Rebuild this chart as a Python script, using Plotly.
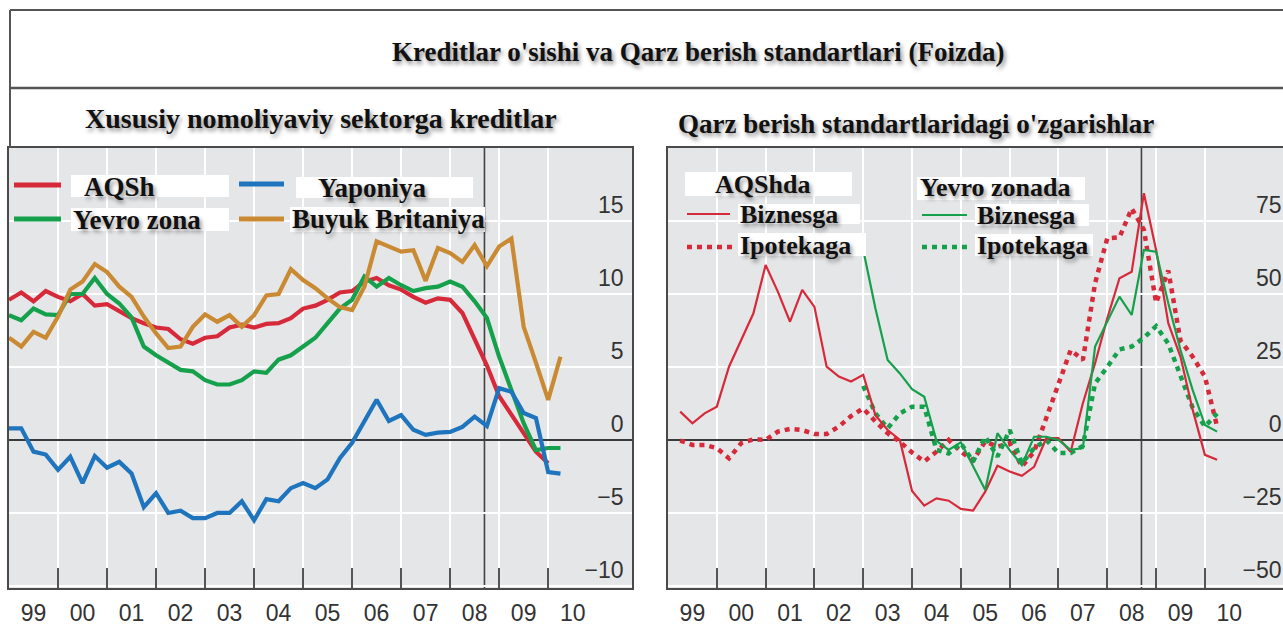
import plotly.graph_objects as go

W, H = 1283, 630

# ---------------- data ----------------
YEAR_LABELS = ["99", "00", "01", "02", "03", "04", "05", "06", "07", "08", "09", "10"]
YEAR_TICK_CENTERS = [1999.5, 2000.5, 2001.5, 2002.5, 2003.5, 2004.5, 2005.5, 2006.5,
                     2007.5, 2008.5, 2009.5, 2010.5]
YEAR_BOUNDARIES = [2000, 2001, 2002, 2003, 2004, 2005, 2006, 2007, 2008, 2009, 2010]
CRISIS_X = 2008.7

LEFT_YTICKS = [-10, -5, 0, 5, 10, 15]
RIGHT_YTICKS = [-50, -25, 0, 25, 50, 75]

# Left panel: credit to private non-financial sector (quarterly, from 1999Q1)
aqsh_credit = [9.6, 10.1, 9.5, 10.2, 9.8, 9.5, 10.0, 9.2, 9.3, 8.8, 8.35, 8.0,
               7.7, 7.6, 6.9, 6.6, 7.0, 7.1, 7.7, 7.9, 7.7, 7.95, 8.0, 8.35,
               9.0, 9.2, 9.6, 10.1, 10.2, 10.85, 11.1, 10.6, 10.3, 9.8, 9.4, 9.7,
               9.6, 8.7, 6.85, 5.1, 3.0, 1.7, 0.5, -0.8, -1.6]
yevro_credit = [8.55, 8.2, 9.0, 8.6, 8.55, 10.0, 10.0, 11.1, 10.0, 9.35, 8.4, 6.4,
                5.8, 5.3, 4.8, 4.7, 4.1, 3.8, 3.8, 4.1, 4.7, 4.6, 5.5, 5.8,
                6.4, 7.0, 8.0, 9.0, 9.6, 11.2, 10.5, 11.1, 10.6, 10.2, 10.4, 10.5,
                10.85, 10.5, 9.5, 8.35, 5.7, 3.4, 1.15, -0.7, -0.55, -0.55]
yaponiya_credit = [0.8, 0.8, -0.8, -1.0, -2.05, -1.15, -2.95, -1.1, -1.9, -1.5, -2.3, -4.6,
                   -3.65, -5.0, -4.85, -5.35, -5.35, -5.0, -5.0, -4.2, -5.5, -4.05, -4.2, -3.3,
                   -2.95, -3.3, -2.7, -1.25, -0.2, 1.25, 2.75, 1.3, 1.7, 0.7, 0.35, 0.5,
                   0.55, 0.9, 1.6, 0.95, 3.55, 3.3, 1.85, 1.5, -2.2, -2.3]
britaniya_credit = [7.0, 6.4, 7.4, 7.0, 8.45, 10.3, 10.85, 12.05, 11.5, 10.5, 9.8, 8.45,
                    7.3, 6.3, 6.4, 7.75, 8.6, 8.1, 8.55, 7.75, 8.55, 9.9, 10.0, 11.7,
                    10.95, 10.4, 9.7, 9.1, 8.9, 10.5, 13.6, 13.25, 12.9, 13.0, 10.9, 13.15,
                    12.8, 12.2, 13.35, 11.9, 13.25, 13.8, 7.75, 5.3, 2.75, 5.7]

# Right panel: changes in lending standards
aqsh_biznes = [9.7, 5.7, 9.1, 11.4, 25.1, 34.2, 43.4, 59.9, 50.8, 40.5, 51.4,
               45.6, 25.1, 21.7, 20.0, 22.3, 8.5, 3.4, 0.0, -17.5, -22.5, -20.0, -20.8,
               -23.6, -24.2, -17.7, -8.8, -10.8, -12.3, -9.2, 0.6, 0.6, -4.0, 12.6, 26.3,
               41.7, 55.4, 57.6, 84.5, 65.1, 40.0, 28.5, 10.3, -5.1, -6.8]          # from 1999Q2
aqsh_ipoteka = [-0.2, -1.7, -1.7, -2.8, -6.3, -1.1, 0.2, 0.0, 2.85, 3.8, 3.4,
                2.05, 2.05, 4.6, 8.2, 10.8, 6.3, 2.3, -0.6, -4.3, -7.4, -4.0, 0.0,
                -4.0, -7.0, -0.5, -2.3, -1.1, -9.1, -4.0, 7.5, 19.5, 30.8, 27.4, 53.7,
                69.1, 69.4, 79.3, 72.0, 47.0, 58.0, 34.0, 28.5, 21.7, 4.6]         # from 1999Q2
yevro_biznes = [65.1, 45.0, 27.4, 22.8, 17.4, 14.8, -0.3, -3.4, -0.8, -9.1, -17.1, 2.3,
                -3.5, -8.6, 1.1, 1.1, 0.0, -3.4, -2.8, 32.0, 40.5, 49.1, 42.8, 65.1,
                64.5, 46.8, 30.8, 17.1, 5.1, 2.85]                                   # from 2003Q1
yevro_ipoteka = [18.5, 9.1, 4.0, 9.1, 11.4, 11.4, -3.4, -4.6, -1.1, -7.4, 1.1, -5.7,
                 3.4, -8.0, -2.8, 0.0, -4.5, -4.5, -2.0, 19.4, 25.0, 31.0, 32.0, 35.0,
                 39.0, 33.0, 22.0, 11.0, 4.6, 9.1]                                  # from 2003Q1


def quarters(start_year, start_q, n):
    """x positions (fractional years) of n consecutive quarters."""
    return [start_year + (start_q - 1 + i) / 4.0 for i in range(n)]


# ---------------- styling ----------------
RED = "#d62a3b"
GREEN = "#15a04c"
BLUE = "#1e74bd"
ORANGE = "#c98a33"
PLOT_BG = "#e5e6e8"
FRAME = "#4a4a4a"
SERIF = "Liberation Serif, Times New Roman, serif"
SANS = "Liberation Sans, Arial, sans-serif"
SHADOW = "2px 3px 4px rgba(0,0,0,0.45)"


def X(px):
    return px / W


def Y(py):
    return 1 - py / H


fig = go.Figure()

# Left panel traces
for vals, col, name in [(aqsh_credit, RED, "AQSh"), (yevro_credit, GREEN, "Yevro zona"),
                        (britaniya_credit, ORANGE, "Buyuk Britaniya"),
                        (yaponiya_credit, BLUE, "Yaponiya")]:
    fig.add_trace(go.Scatter(x=quarters(1999, 1, len(vals)), y=vals, mode="lines",
                             line=dict(color=col, width=4.2), name=name,
                             xaxis="x", yaxis="y", showlegend=False))

# Right panel traces
DOTS = "5px,5px"
fig.add_trace(go.Scatter(x=quarters(1999, 2, len(aqsh_ipoteka)), y=aqsh_ipoteka, mode="lines",
                         line=dict(color=RED, width=4.5, dash=DOTS), xaxis="x2", yaxis="y2",
                         showlegend=False))
fig.add_trace(go.Scatter(x=quarters(2003, 1, len(yevro_ipoteka)), y=yevro_ipoteka, mode="lines",
                         line=dict(color=GREEN, width=4.5, dash=DOTS), xaxis="x2", yaxis="y2",
                         showlegend=False))
fig.add_trace(go.Scatter(x=quarters(1999, 2, len(aqsh_biznes)), y=aqsh_biznes, mode="lines",
                         line=dict(color=RED, width=2.2), xaxis="x2", yaxis="y2",
                         showlegend=False))
fig.add_trace(go.Scatter(x=quarters(2003, 1, len(yevro_biznes)), y=yevro_biznes, mode="lines",
                         line=dict(color=GREEN, width=2.2), xaxis="x2", yaxis="y2",
                         showlegend=False))

PLOT_TOP, PLOT_BOTTOM = 148, 588


def xaxis_cfg(dom, rng):
    return dict(domain=dom, range=rng, tickmode="array", tickvals=YEAR_TICK_CENTERS,
                ticktext=YEAR_LABELS, ticks="", showgrid=False, zeroline=False,
                showline=True, mirror=True, linecolor=FRAME, linewidth=2,
                tickfont=dict(family=SANS, size=23, color="#333"),
                ticklabelstandoff=3,
                minor=dict(tickmode="array", tickvals=YEAR_BOUNDARIES, ticks="inside",
                           ticklen=20, tickwidth=1.5, tickcolor="#555", showgrid=True,
                           gridcolor="white", gridwidth=1.5),
                fixedrange=True)


def yaxis_cfg(rng, ticks, standoff):
    return dict(domain=[Y(PLOT_BOTTOM), Y(PLOT_TOP)], range=rng, side="right",
                tickmode="array", tickvals=ticks, ticks="", ticklabelposition="inside",
                ticklabelshift=-16, ticklabelstandoff=standoff,
                showgrid=True, gridcolor="white", gridwidth=1.5,
                zeroline=True, zerolinecolor="#3a3a3a", zerolinewidth=1.6,
                showline=True, mirror=True, linecolor=FRAME, linewidth=2,
                tickfont=dict(family=SANS, size=23, color="#333"), fixedrange=True)


fig.update_layout(
    width=W, height=H, margin=dict(l=0, r=0, t=0, b=0),
    paper_bgcolor="white", plot_bgcolor=PLOT_BG,
    xaxis=dict(**xaxis_cfg([X(9), X(632)], [1999, 2011.71]), anchor="y"),
    yaxis=dict(**yaxis_cfg([-10.14, 20], LEFT_YTICKS, 10), anchor="x"),
    xaxis2=dict(**xaxis_cfg([X(668), 1.0], [1999, 2011.6]), anchor="y2"),
    yaxis2=dict(**yaxis_cfg([-50.7, 100], RIGHT_YTICKS, 3), anchor="x2"),
)

shapes = []
# crisis reference lines
for xr, yr in [("x", "y domain"), ("x2", "y2 domain")]:
    shapes.append(dict(type="line", xref=xr, yref=yr, x0=CRISIS_X, x1=CRISIS_X, y0=0, y1=1,
                       line=dict(color="#444", width=1.6), layer="below"))
# outer frame
for x0, y0, x1, y1, w in [(10, 10, W, 10, 2), (10, 88, W, 88, 2.5), (10, 10, 10, PLOT_TOP, 2)]:
    shapes.append(dict(type="line", xref="paper", yref="paper", x0=X(x0), y0=Y(y0),
                       x1=X(x1), y1=Y(y1), line=dict(color="#555", width=w)))
# white label boxes of the legends
for x0, y0, x1, y1 in [(71, 175, 229, 197), (296, 177, 473, 198), (71, 208, 229, 231),
                       (290, 207, 485, 232),
                       (685, 172, 852, 196), (738, 204, 860, 224), (738, 233, 866, 256),
                       (917, 177, 1085, 200), (975, 204, 1089, 226), (975, 234, 1093, 256)]:
    shapes.append(dict(type="rect", xref="paper", yref="paper", x0=X(x0), y0=Y(y0),
                       x1=X(x1), y1=Y(y1), fillcolor="white", line=dict(width=0),
                       layer="above"))
# legend line samples
for x0, x1, py, col, w, dash in [(14, 61, 185, RED, 5, "solid"), (239, 284, 184, BLUE, 5, "solid"),
                                 (14, 61, 219, GREEN, 5, "solid"), (239, 284, 219, ORANGE, 5, "solid"),
                                 (687, 730, 214, RED, 2.2, "solid"), (687, 734, 247, RED, 4.5, DOTS),
                                 (922, 967, 215, GREEN, 2.2, "solid"), (922, 969, 247, GREEN, 4.5, DOTS)]:
    shapes.append(dict(type="line", xref="paper", yref="paper", x0=X(x0), x1=X(x1),
                       y0=Y(py), y1=Y(py), line=dict(color=col, width=w, dash=dash),
                       layer="above"))
fig.update_layout(shapes=shapes)

ann = []


def txt(text, px, py, size=27, anchor="left"):
    ann.append(dict(text=text, x=X(px), y=Y(py), xref="paper", yref="paper",
                    xanchor=anchor, yanchor="middle", showarrow=False, borderpad=0,
                    font=dict(family=SERIF, size=size, color="#111", weight="bold",
                              shadow=SHADOW)))


txt("Kreditlar o'sishi va Qarz berish standartlari (Foizda)", 698, 52, 27, "center")
txt("Xususiy nomoliyaviy sektorga kreditlar", 321, 118, 28, "center")
txt("Qarz berish standartlaridagi o'zgarishlar", 916, 124, 27, "center")
txt("AQSh", 83, 187)
txt("Yaponiya", 317, 188)
txt("Yevro zona", 72, 220)
txt("Buyuk Britaniya", 291, 219)
txt("AQShda", 714, 184, 26)
txt("Biznesga", 739, 214, 26)
txt("Ipotekaga", 739, 246, 26)
txt("Yevro zonada", 919, 187, 26)
txt("Biznesga", 976, 215, 26)
txt("Ipotekaga", 976, 246, 26)
fig.update_layout(annotations=ann)

fig.write_html("out.html", config={"displayModeBar": False},
               post_script="document.body.style.margin='0px';")
